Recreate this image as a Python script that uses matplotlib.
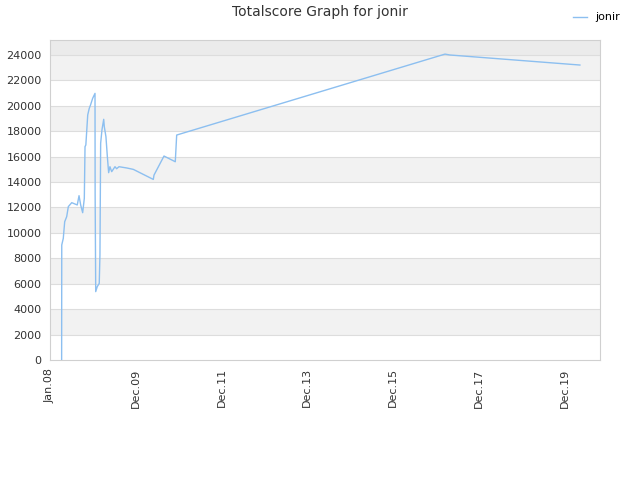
import matplotlib
matplotlib.use("Agg")
import matplotlib.pyplot as plt
import matplotlib.dates as mdates
import numpy as np
import pandas as pd

# score history
dates = [
    "2008-04-09", "2008-04-10", "2008-04-23", "2008-05-05", "2008-05-22",
    "2008-06-05", "2008-07-04", "2008-08-20", "2008-09-04", "2008-09-18",
    "2008-10-05", "2008-10-19", "2008-10-25", "2008-11-01", "2008-11-17",
    "2008-11-30", "2008-12-11", "2008-12-29", "2009-01-18", "2009-01-19",
    "2009-01-24", "2009-02-06", "2009-02-23", "2009-03-01", "2009-03-07",
    "2009-03-18", "2009-04-02", "2009-04-07", "2009-04-21", "2009-05-03",
    "2009-05-14", "2009-05-25", "2009-06-09", "2009-07-07", "2009-07-21",
    "2009-08-10", "2009-10-15", "2009-12-10", "2010-05-29", "2010-06-04",
    "2010-08-28", "2010-12-02", "2010-12-14", "2011-01-11", "2017-03-15",
    "2017-04-26", "2020-05-06",
]
scores = [
    0, 9050, 9570, 10880, 11280,
    12070, 12380, 12200, 12930, 12200,
    11590, 12720, 16790, 16920, 19280,
    19800, 20070, 20590, 20980, 13110,
    5380, 5770, 6030, 8260, 17050,
    18100, 18940, 18360, 17570, 16000,
    14740, 15210, 14820, 15210, 15050,
    15210, 15110, 15000, 14210, 14550,
    16050, 15600, 17700, 17780, 24070,
    24000, 23210,
]

tick_dates = ["2008-01-01", "2009-12-31", "2011-12-30", "2013-12-30",
              "2015-12-29", "2017-12-29", "2019-12-28"]
tick_labels = ["Jan.08", "Dec.09", "Dec.11", "Dec.13", "Dec.15", "Dec.17", "Dec.19"]

x = pd.to_datetime(dates)

fig = plt.figure(figsize=(6.4, 4.8), dpi=100)
ax = fig.add_axes([50 / 640, 120 / 480, 550 / 640, 320 / 480])

ymax = 25180
# alternating background bands
for lo in range(0, 24000, 2000):
    if (lo // 2000) % 2 == 1:
        ax.axhspan(lo, lo + 2000, color="#f2f2f2", zorder=0, lw=0)
ax.axhspan(24000, ymax, color="#ebebeb", zorder=0, lw=0)
for yv in range(2000, 25000, 2000):
    ax.axhline(yv, color="#dddddd", lw=0.8, zorder=1)

ax.plot(x, scores, color="#8cbff0", lw=1.0, label="jonir", zorder=3)

ax.set_ylim(0, ymax)
ax.set_xlim(pd.Timestamp("2008-01-01"), pd.Timestamp("2020-10-24"))
ax.set_yticks(range(0, 24001, 2000))
ax.set_xticks(pd.to_datetime(tick_dates))
ax.set_xticklabels(tick_labels, rotation=90)
ax.tick_params(length=0, labelsize=8, labelcolor="#333333", pad=6)

for s in ax.spines.values():
    s.set_color("#d0d0d0")

fig.text(0.5, 0.975, "Totalscore Graph for jonir", ha="center", va="center",
         fontsize=10, color="#333333")
fig.legend(loc="upper right", bbox_to_anchor=(0.985, 0.995), frameon=False,
           fontsize=8, handlelength=1.2)

fig.savefig("out.png")
